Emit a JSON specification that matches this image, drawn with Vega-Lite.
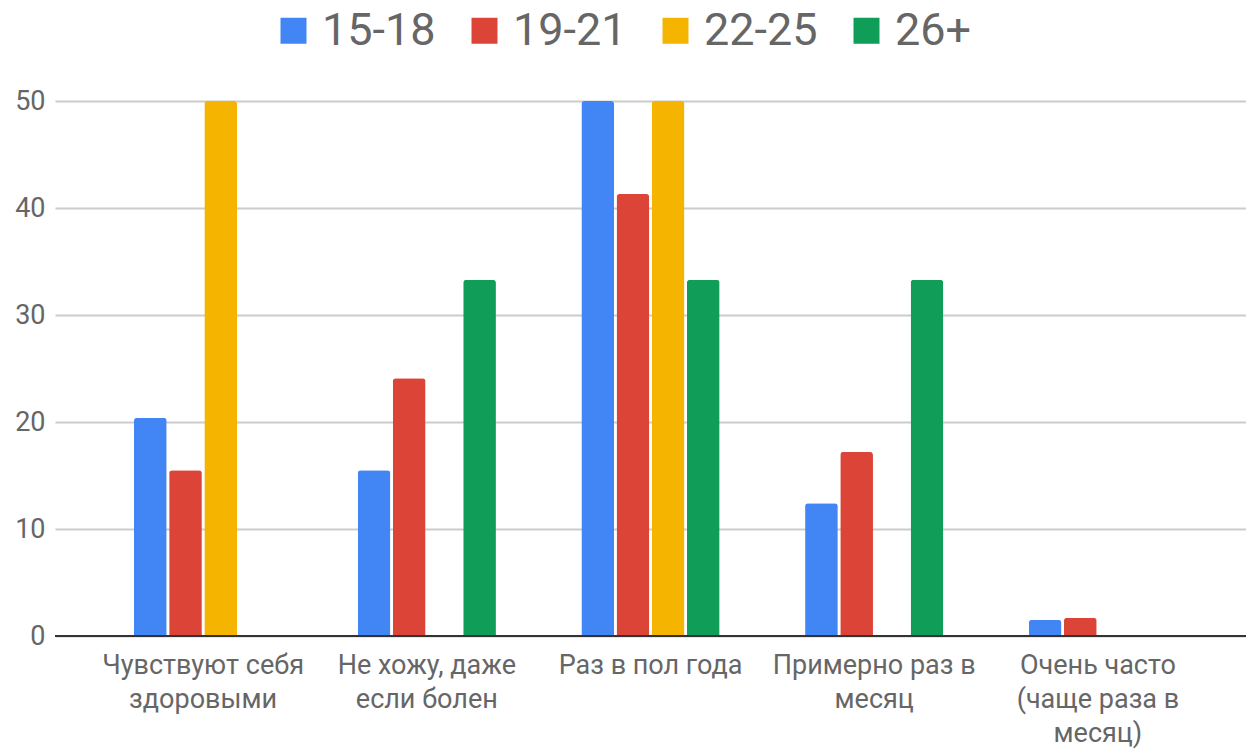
{
  "$schema": "https://vega.github.io/schema/vega-lite/v6.json",
  "width": 1191,
  "height": 535,
  "autosize": {"type": "none"},
  "padding": {"left": 55, "top": 101, "right": 0, "bottom": 113},
  "background": "white",
  "config": {
    "view": {"stroke": null},
    "font": "Roboto"
  },
  "data": {
    "values": [
      {"cat": "Чувствуют себя здоровыми", "age": "15-18", "value": 20.4},
      {"cat": "Чувствуют себя здоровыми", "age": "19-21", "value": 15.5},
      {"cat": "Чувствуют себя здоровыми", "age": "22-25", "value": 50},
      {"cat": "Чувствуют себя здоровыми", "age": "26+", "value": 0},
      {"cat": "Не хожу, даже если болен", "age": "15-18", "value": 15.5},
      {"cat": "Не хожу, даже если болен", "age": "19-21", "value": 24.1},
      {"cat": "Не хожу, даже если болен", "age": "22-25", "value": 0},
      {"cat": "Не хожу, даже если болен", "age": "26+", "value": 33.3},
      {"cat": "Раз в пол года", "age": "15-18", "value": 50},
      {"cat": "Раз в пол года", "age": "19-21", "value": 41.3},
      {"cat": "Раз в пол года", "age": "22-25", "value": 50},
      {"cat": "Раз в пол года", "age": "26+", "value": 33.3},
      {"cat": "Примерно раз в месяц", "age": "15-18", "value": 12.4},
      {"cat": "Примерно раз в месяц", "age": "19-21", "value": 17.2},
      {"cat": "Примерно раз в месяц", "age": "22-25", "value": 0},
      {"cat": "Примерно раз в месяц", "age": "26+", "value": 33.3},
      {"cat": "Очень часто (чаще раза в месяц)", "age": "15-18", "value": 1.5},
      {"cat": "Очень часто (чаще раза в месяц)", "age": "19-21", "value": 1.7},
      {"cat": "Очень часто (чаще раза в месяц)", "age": "22-25", "value": 0},
      {"cat": "Очень часто (чаще раза в месяц)", "age": "26+", "value": 0}
    ]
  },
  "layer": [
    {
      "mark": {"type": "bar", "cornerRadiusTopLeft": 3, "cornerRadiusTopRight": 3},
      "encoding": {
        "x": {
          "field": "cat",
          "type": "nominal",
          "sort": null,
          "scale": {"paddingInner": 0.382, "paddingOuter": 0.353},
          "axis": {
            "title": null,
            "labelAngle": 0,
            "domain": false,
            "ticks": false,
            "labelPadding": 16,
            "labelFontSize": 27,
            "labelLineHeight": 34,
            "labelLimit": 0,
            "labelColor": "#666666",
            "labelBaseline": "top",
            "labelExpr": "datum.value == 'Чувствуют себя здоровыми' ? ['Чувствуют себя', 'здоровыми'] : datum.value == 'Не хожу, даже если болен' ? ['Не хожу, даже', 'если болен'] : datum.value == 'Примерно раз в месяц' ? ['Примерно раз в', 'месяц'] : datum.value == 'Очень часто (чаще раза в месяц)' ? ['Очень часто', '(чаще раза в', 'месяц)'] : datum.value"
          }
        },
        "xOffset": {
          "field": "age",
          "type": "nominal",
          "sort": ["15-18", "19-21", "22-25", "26+"],
          "scale": {"paddingInner": 0.07, "paddingOuter": 0}
        },
        "y": {
          "field": "value",
          "type": "quantitative",
          "scale": {"domain": [0, 50], "nice": false},
          "axis": {
            "title": null,
            "values": [0, 10, 20, 30, 40, 50],
            "domain": false,
            "ticks": false,
            "labelPadding": 10,
            "labelFontSize": 27,
            "labelColor": "#666666",
            "gridColor": "#cccccc",
            "gridWidth": 2
          }
        },
        "color": {
          "field": "age",
          "type": "nominal",
          "sort": ["15-18", "19-21", "22-25", "26+"],
          "scale": {
            "domain": ["15-18", "19-21", "22-25", "26+"],
            "range": ["#4285F4", "#DB4437", "#F4B400", "#0F9D58"]
          },
          "legend": {
            "title": null,
            "orient": "none",
            "direction": "horizontal",
            "legendX": 216,
            "legendY": -93,
            "symbolType": "square",
            "symbolSize": 676,
            "symbolStrokeWidth": 0,
            "symbolOpacity": 1,
            "labelFontSize": 45,
            "labelColor": "#666666",
            "labelOffset": 6,
            "columnPadding": 26
          }
        }
      }
    },
    {
      "mark": {"type": "rule", "color": "#333333", "strokeWidth": 2},
      "encoding": {"y": {"datum": 0}}
    }
  ]
}
